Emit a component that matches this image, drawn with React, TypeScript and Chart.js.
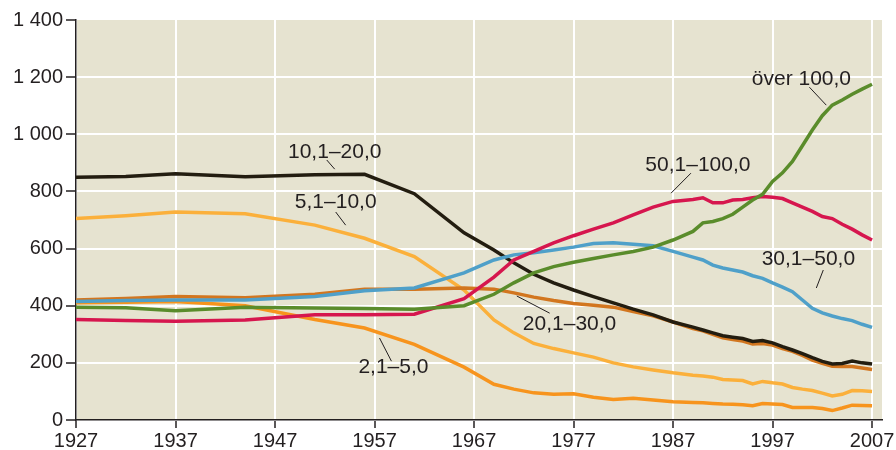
import React, { useEffect, useRef } from "react";
import { Chart, registerables } from "chart.js";

Chart.register(...registerables);

const years = [1927, 1932, 1937, 1944, 1951, 1956, 1961, 1966, 1969, 1971, 1973, 1975, 1977, 1979, 1981, 1983, 1985, 1987, 1989, 1990, 1991, 1992, 1993, 1994, 1995, 1996, 1997, 1998, 1999, 2000, 2001, 2002, 2003, 2004, 2005, 2006, 2007];

const s2to5 = [410, 412, 415, 400, 352, 322, 265, 185, 125, 108, 95, 90, 92, 80, 72, 76, 70, 64, 61, 60, 58, 56, 55, 53, 50, 58, 56, 54, 44, 44, 44, 40, 33, 42, 52, 51, 50];
const s5to10 = [705, 715, 728, 722, 682, 636, 572, 455, 350, 305, 268, 250, 235, 220, 200, 186, 175, 165, 157, 154, 150, 142, 140, 138, 126, 135, 130, 126, 114, 108, 103, 94, 84, 90, 103, 102, 100];
const s10to20 = [850, 852, 862, 851, 858, 860, 792, 655, 595, 550, 510, 480, 455, 432, 410, 388, 368, 343, 325, 315, 305, 295, 290, 285, 275, 278, 270, 257, 245, 232, 218, 205, 196, 198, 206, 200, 196];
const s20to30 = [420, 425, 432, 428, 440, 458, 458, 462, 458, 445, 430, 418, 408, 402, 395, 380, 365, 343, 320, 312, 300, 288, 282, 276, 266, 268, 262, 250, 240, 226, 210, 198, 188, 187, 187, 182, 177];
const s30to50 = [415, 418, 420, 420, 432, 452, 462, 515, 560, 578, 585, 595, 605, 618, 620, 615, 610, 590, 570, 560, 542, 532, 525, 518, 505, 496, 480, 465, 449, 420, 391, 375, 364, 355, 348, 335, 324];
const s50to100 = [352, 348, 346, 350, 368, 368, 370, 425, 500, 560, 590, 620, 645, 668, 690, 718, 745, 765, 772, 778, 760, 760, 770, 772, 778, 782, 780, 775, 760, 745, 730, 712, 705, 685, 668, 648, 630];
const sOver100 = [395, 393, 382, 395, 392, 390, 388, 400, 440, 480, 515, 537, 552, 565, 578, 590, 605, 630, 660, 690, 695, 705, 720, 745, 770, 790, 835, 865, 905, 960, 1015, 1065, 1102, 1120, 1140, 1158, 1175];

const xTicks = [1927, 1937, 1947, 1957, 1967, 1977, 1987, 1997, 2007];
const yTicks = [0, 200, 400, 600, 800, 1000, 1200, 1400];

const seriesNames = ["2,1–5,0", "5,1–10,0", "10,1–20,0", "20,1–30,0", "30,1–50,0", "50,1–100,0", "över 100,0"];

// label placement in data coordinates: [text, x, y, lineX1, lineY1, lineX2, lineY2]
const labelPlacements: [string, number, number, number, number, number, number][] = [
  ["10,1–20,0", 1953.0, 938, 1952.2, 910, 1953.0, 878],
  ["5,1–10,0", 1953.1, 763, 1953.1, 728, 1954.1, 682],
  ["50,1–100,0", 1989.5, 892, 1988.8, 864, 1986.8, 794],
  ["över 100,0", 1999.9, 1193, 2000.7, 1165, 2002.4, 1102],
  ["30,1–50,0", 2000.6, 563, 2002.1, 525, 2001.4, 462],
  ["20,1–30,0", 1976.6, 336, 1971.3, 434, 1974.6, 374],
  ["2,1–5,0", 1958.9, 185, 1957.5, 287, 1958.7, 206],
];

const FONT = "'Liberation Sans', Arial, sans-serif";
const TEXT = "#231f20";

function fmtThousands(v: number): string {
  const s = String(Math.round(v));
  return s.replace(/\B(?=(\d{3})+(?!\d))/g, " ");
}

const bgPlugin = {
  id: "bgPlugin",
  beforeDraw(chart: any) {
    const { ctx, chartArea } = chart;
    if (!chartArea) return;
    ctx.save();
    ctx.fillStyle = "#e6e3d0";
    ctx.fillRect(chartArea.left, chartArea.top, chartArea.right - chartArea.left, chartArea.bottom - chartArea.top);
    ctx.restore();
  },
};

const labelPlugin = {
  id: "labelPlugin",
  afterDatasetsDraw(chart: any) {
    const { ctx } = chart;
    const xs = chart.scales.x;
    const ys = chart.scales.y;
    ctx.save();
    ctx.font = `21px ${FONT}`;
    ctx.fillStyle = TEXT;
    ctx.strokeStyle = TEXT;
    ctx.lineWidth = 1;
    ctx.textAlign = "center";
    ctx.textBaseline = "middle";
    for (const [t, x, y, x1, y1, x2, y2] of labelPlacements) {
      ctx.fillText(t, xs.getPixelForValue(x), ys.getPixelForValue(y));
      ctx.beginPath();
      ctx.moveTo(xs.getPixelForValue(x1), ys.getPixelForValue(y1));
      ctx.lineTo(xs.getPixelForValue(x2), ys.getPixelForValue(y2));
      ctx.stroke();
    }
    ctx.restore();
  },
};

export default function App() {
  const ref = useRef<HTMLCanvasElement | null>(null);
  useEffect(() => {
    if (!ref.current) return;
    const mk = (vals: number[]) => years.map((y, i) => ({ x: y, y: vals[i] }));
    const ds = (label: string, vals: number[], color: string, order: number) => ({
      label,
      data: mk(vals),
      borderColor: color,
      backgroundColor: color,
      borderWidth: 3.5,
      pointRadius: 0,
      tension: 0,
      order,
    });
    const chart = new Chart(ref.current, {
      type: "line",
      data: {
        datasets: [
          ds(seriesNames[0], s2to5, "#f7941d", 7),
          ds(seriesNames[1], s5to10, "#fbb03b", 6),
          ds(seriesNames[3], s20to30, "#d2761f", 5),
          ds(seriesNames[2], s10to20, "#231d10", 4),
          ds(seriesNames[4], s30to50, "#4fa0c9", 3),
          ds(seriesNames[5], s50to100, "#d6164e", 2),
          ds(seriesNames[6], sOver100, "#5a8c2b", 1),
        ],
      },
      options: {
        animation: false,
        responsive: false,
        layout: { padding: { top: 20, right: 14, left: 0, bottom: 0 } },
        plugins: { legend: { display: false }, tooltip: { enabled: false } },
        scales: {
          x: {
            type: "linear",
            min: 1927,
            max: 2008,
            afterBuildTicks: (s: any) => {
              s.ticks = xTicks.map((v) => ({ value: v }));
            },
            afterFit: (s: any) => {
              s.height = 30;
            },
            grid: {
              color: "#ffffff",
              lineWidth: 2,
              tickColor: TEXT,
              tickWidth: 1.5,
              tickLength: 8,
            },
            border: { color: TEXT, width: 1.5 },
            ticks: {
              color: TEXT,
              font: { family: FONT, size: 20 },
              padding: 1,
              maxRotation: 0,
              autoSkip: false,
              callback: (v: any) => String(v),
            },
          },
          y: {
            type: "linear",
            min: 0,
            max: 1400,
            afterBuildTicks: (s: any) => {
              s.ticks = yTicks.map((v) => ({ value: v }));
            },
            afterFit: (s: any) => {
              s.width = 76;
            },
            grid: {
              color: (c: any) => (c.tick && c.tick.value === 1400 ? "rgba(0,0,0,0)" : "#ffffff"),
              lineWidth: 2,
              tickColor: TEXT,
              tickWidth: 1.5,
              tickLength: 10,
            },
            border: { color: TEXT, width: 1.5 },
            ticks: {
              color: TEXT,
              font: { family: FONT, size: 20 },
              padding: 3,
              autoSkip: false,
              callback: (v: any) => fmtThousands(Number(v)),
            },
          },
        },
      },
      plugins: [bgPlugin, labelPlugin],
    });
    return () => chart.destroy();
  }, []);
  return (
    <div style={{ position: "fixed", left: 0, top: 0, width: 896, height: 450, background: "#ffffff" }}>
      <canvas ref={ref} width={896} height={450} style={{ display: "block", width: 896, height: 450 }} />
    </div>
  );
}
